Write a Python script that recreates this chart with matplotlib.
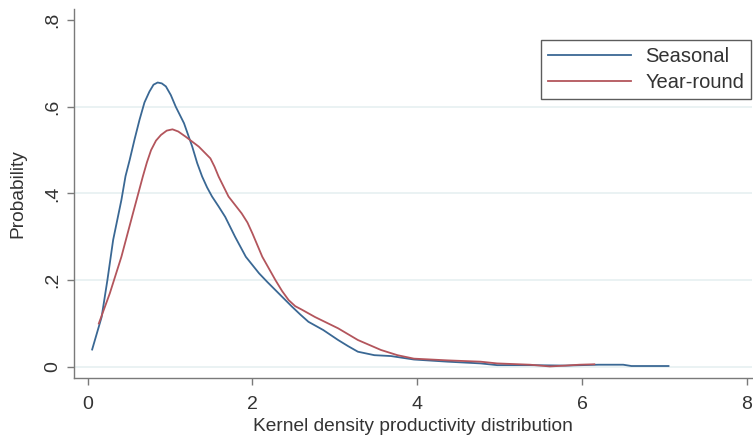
import matplotlib
matplotlib.use("Agg")
import matplotlib.pyplot as plt

# Seasonal (blue) density curve
seasonal_x = [0.055, 0.17, 0.24, 0.31, 0.41, 0.46, 0.51, 0.57, 0.63, 0.69, 0.75, 0.80, 0.85,
              0.90, 0.95, 1.01, 1.07, 1.17, 1.27, 1.33, 1.39, 1.45, 1.51, 1.59, 1.67, 1.79,
              1.92, 2.08, 2.18, 2.28, 2.38, 2.48, 2.58, 2.68, 2.86, 3.04, 3.16, 3.28,
              3.48, 3.68, 3.96, 4.37, 4.77, 4.97, 5.37, 5.8, 6.2, 6.5, 6.6, 7.05]
seasonal_y = [0.040, 0.115, 0.200, 0.293, 0.385, 0.440, 0.477, 0.525, 0.570, 0.610, 0.635, 0.651, 0.656,
              0.654, 0.647, 0.627, 0.600, 0.562, 0.508, 0.470, 0.439, 0.414, 0.393, 0.370, 0.346, 0.300,
              0.254, 0.216, 0.196, 0.177, 0.158, 0.139, 0.121, 0.104, 0.085, 0.062, 0.048, 0.035,
              0.027, 0.025, 0.017, 0.012, 0.008, 0.004, 0.004, 0.003, 0.005, 0.005, 0.002, 0.002]

# Year-round (red) density curve
yearround_x = [0.136, 0.27, 0.41, 0.55, 0.67, 0.72, 0.77, 0.83, 0.89, 0.96, 1.03, 1.10, 1.19, 1.35,
               1.49, 1.54, 1.59, 1.71, 1.87, 1.94, 2.00, 2.12, 2.28, 2.36, 2.44, 2.52, 2.60, 2.76,
               3.04, 3.28, 3.56, 3.76, 3.96, 4.37, 4.77, 4.97, 5.37, 5.61, 5.8, 5.97, 6.15]
yearround_y = [0.100, 0.170, 0.254, 0.354, 0.439, 0.472, 0.500, 0.522, 0.535, 0.545, 0.548, 0.543, 0.531, 0.508,
               0.481, 0.462, 0.439, 0.393, 0.354, 0.333, 0.308, 0.254, 0.200, 0.175, 0.154, 0.140, 0.132, 0.115,
               0.089, 0.062, 0.039, 0.027, 0.019, 0.015, 0.012, 0.008, 0.005, 0.001, 0.003, 0.005, 0.006]

x_ticks = [0, 2, 4, 6, 8]
y_ticks = [0, 0.2, 0.4, 0.6, 0.8]
y_ticklabels = ["0", ".2", ".4", ".6", ".8"]

plt.rcParams['font.family'] = ['Liberation Sans', 'DejaVu Sans']

fig = plt.figure(figsize=(7.53, 4.41), dpi=100)
ax = fig.add_axes([0.0983, 0.1435, 0.900, 0.8365])

blue = "#3a6894"
red = "#b3555c"
ax.plot(seasonal_x, seasonal_y, color=blue, lw=1.3, label="Seasonal")
ax.plot(yearround_x, yearround_y, color=red, lw=1.3, label="Year-round")

ax.set_xlim(-0.165, 8.06)
ax.set_ylim(-0.025, 0.826)
ax.set_xticks(x_ticks)
ax.set_yticks(y_ticks)
ax.set_yticklabels(y_ticklabels, rotation=90, va="center")
for y in y_ticks[:-1]:
    ax.axhline(y, color="#e6f0f1", lw=1.2, zorder=0)

for s in ["top", "right"]:
    ax.spines[s].set_visible(False)
for s in ["left", "bottom"]:
    ax.spines[s].set_color("#7a7a7a")
    ax.spines[s].set_linewidth(1.0)
ax.tick_params(axis="both", colors="#7a7a7a", length=5, width=1.0, labelsize=14,
               labelcolor="#333333")
ax.tick_params(axis="x", pad=8)
ax.tick_params(axis="y", pad=4)

ax.set_xlabel("Kernel density productivity distribution", fontsize=13.8, color="#333333", labelpad=4)
ax.set_ylabel("Probability", fontsize=13.8, color="#333333", labelpad=13)

leg = ax.legend(loc="upper right", bbox_to_anchor=(0.999, 0.916), fontsize=14.5,
                frameon=True, fancybox=False, handlelength=4.1, handletextpad=0.7,
                borderpad=0.35, labelspacing=0.35, borderaxespad=0)
leg.get_frame().set_edgecolor("#333333")
leg.get_frame().set_linewidth(1.0)
for t in leg.get_texts():
    t.set_color("#333333")

fig.savefig("out.png", dpi=100)
